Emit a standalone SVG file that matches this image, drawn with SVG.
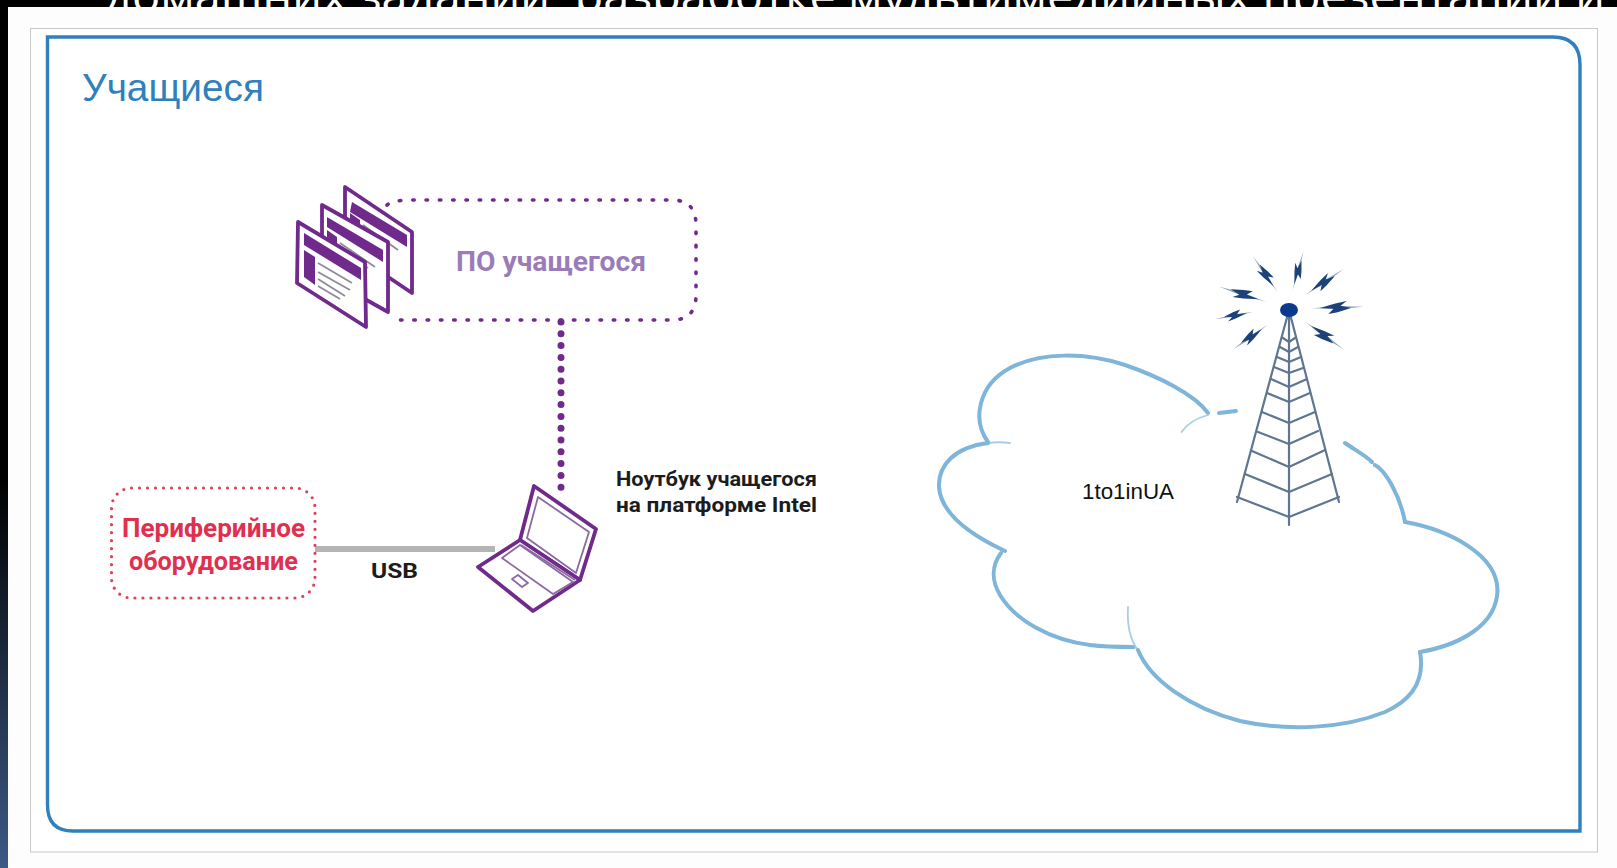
<svg xmlns="http://www.w3.org/2000/svg" width="1617" height="868" viewBox="0 0 1617 868">
<style>
.lbl{font-family:"Roboto","Liberation Sans",sans-serif;font-weight:700}
.win{fill:#fff;stroke:#6f2a8c;stroke-width:3.800;stroke-linejoin:round}
.bar{fill:#6f2a8c}
.ln{stroke:#8f8a9c;stroke-width:1.800;fill:none}
.lap{fill:#fff;stroke:#6f2a8c;stroke-width:3.800;stroke-linejoin:round}
.lapi{fill:none;stroke:#8a6aa0;stroke-width:1.800;stroke-linejoin:round}
.tw{fill:none;stroke:#5f7590;stroke-width:2.200;stroke-linecap:round;stroke-linejoin:round}
.cl{fill:none;stroke:#7fb5d8;stroke-width:4;stroke-linecap:round;stroke-linejoin:round}
.clt{fill:none;stroke:#a9cde3;stroke-width:1.800;stroke-linecap:round}
</style>
<defs>
<linearGradient id="strip" x1="0" y1="0" x2="0" y2="1"><stop offset="0.55" stop-color="#000"/><stop offset="1" stop-color="#3c5a86"/></linearGradient>
<g id="bolt">
<polygon points="0,0 45,-3 100,0 45,3" fill="#8fa3bb"/>
<polygon points="24,-2 50,-9 68,-12 58,-2 84,0 54,8 32,12 44,3" fill="#1c4279"/>
</g>
</defs>
<rect width="1617" height="868" fill="#000"/>
<rect x="0" y="0" width="8" height="868" fill="url(#strip)"/>
<text id="top-text" x="105" y="12" font-family="'Open Sans',sans-serif" font-size="44" fill="#fff" textLength="1500" lengthAdjust="spacingAndGlyphs">домашних заданий, разработке мультимедийных презентаций и</text>
<rect x="8" y="7" width="1609" height="861" fill="#fdfdfd"/>
<g id="frame">
<rect x="30.500" y="28.500" width="1567" height="823.500" fill="#fff" stroke="#c8c8c8" stroke-width="1"/>
<path d="M47.500,37 H1553 Q1580,37 1580,65 V831 H73 Q47.500,831 47.500,805 Z" fill="#fff" stroke="#2f80bb" stroke-width="3.400"/>
<text x="82" y="101" font-family="'Liberation Sans',sans-serif" font-size="38" fill="#2f80bb" textLength="182" lengthAdjust="spacingAndGlyphs">Учащиеся</text>
</g>
<g id="connectors">
<path d="M561,322 V497" fill="none" stroke="#6f2a8c" stroke-width="7" stroke-linecap="round" stroke-dasharray="0 11.800"/>
<path d="M315,549 H495" fill="none" stroke="#b4b4b4" stroke-width="6"/>
<text x="371" y="578" class="lbl" font-size="21" fill="#1c1c1c" textLength="47" lengthAdjust="spacingAndGlyphs">USB</text>
</g>
<g id="software">
<path d="M387,205 Q393,200 412,200 H672 Q696,200 696,225 V295 Q696,320 672,320 H392" fill="none" stroke="#6f2a8c" stroke-width="3.600" stroke-linecap="round" stroke-dasharray="1.500 11.800"/>
<text x="456" y="271" class="lbl" font-size="28" fill="#9a7cb8" textLength="190" lengthAdjust="spacingAndGlyphs">ПО учащегося</text>
<polygon class="win" points="345,187 412,232 412,293 345,248"/>
<polygon class="bar" points="352,202 407,235 407,247 350,212"/>
<polygon class="bar" points="350,213 360,220 360,230 350,225"/>
<path class="ln" d="M363,225 L398,250"/>
<polygon class="win" points="322,205 388,242 388,312 322,275"/>
<polygon class="bar" points="327,217 383,250 383,262 327,227"/>
<polygon class="bar" points="327,230 337,237 337,245 327,240"/>
<path class="ln" d="M340,243 L375,267 M340,250 L368,268"/>
<polygon class="win" points="298,222 365,262 366,327 297,283"/>
<polygon class="bar" points="304,233 361,268 361,280 304,245"/>
<polygon class="bar" points="304,250 315,257 315,285 304,277"/>
<path class="ln" d="M318,263 L352,283 M318,272 L350,290 M318,279 L345,296 M318,286 L340,299"/>
</g>
<g id="peripherals">
<rect x="111.500" y="488" width="203.500" height="110" rx="20" fill="none" stroke="#e0405c" stroke-width="3.200" stroke-linecap="round" stroke-dasharray="0 8"/>
<text x="122" y="537" class="lbl" font-size="26" fill="#e0304f" textLength="183" lengthAdjust="spacingAndGlyphs">Периферийное</text>
<text x="129" y="570" class="lbl" font-size="26" fill="#e0304f" textLength="169" lengthAdjust="spacingAndGlyphs">оборудование</text>
</g>
<g id="laptop">
<polygon class="lap" points="534,486 596,529 580,580 520,540"/>
<polygon class="lapi" points="538,497 589,532 576,573 527,538"/>
<polygon class="lap" points="520,540 478,567 533,611 580,580"/>
<path class="lapi" d="M521,545 L575,580"/>
<polygon class="lapi" points="520,545 573,582 553,594 502,558"/>
<polygon class="lapi" points="518,575 528,583 522,587 512,579"/>
<text x="616" y="486" class="lbl" font-size="20" fill="#1c1c1c" textLength="201" lengthAdjust="spacingAndGlyphs">Ноутбук учащегося</text>
<text x="616" y="512" class="lbl" font-size="20" fill="#1c1c1c" textLength="201" lengthAdjust="spacingAndGlyphs">на платформе Intel</text>
</g>
<g id="cloud">
<path class="cl" d="M988,442 C972,420 978,385 1010,368 C1040,352 1085,352 1125,365 C1160,377 1195,395 1208,413"/>
<path class="clt" d="M1208,415 C1197,418 1187,424 1181.500,432"/>
<path class="cl" d="M1219,413 L1236,411"/>
<path class="clt" d="M1010,443 C1002,442 995,442 988,443"/>
<path class="cl" d="M988,443 C955,447 938,465 939,487 C941,515 975,537 1005,551"/>
<path class="cl" d="M1001,553 C992,565 991,580 1000,595 C1015,620 1050,640 1090,645 C1105,647 1120,647 1134,647"/>
<path class="clt" d="M1128,607 C1127,625 1130,640 1138,650"/>
<path class="cl" d="M1138,650 C1150,680 1190,708 1240,721 C1290,732 1345,728 1385,712 C1412,700 1425,680 1420,652"/>
<path class="cl" d="M1420,652 C1460,645 1497,625 1497.500,590 C1497,555 1450,530 1405,522"/>
<path class="cl" d="M1405,522 C1400,495 1385,470 1375,465 M1372,462 C1365,455 1355,450 1345,443"/>
<text x="1082" y="499" font-family="'Liberation Sans',sans-serif" font-size="22" fill="#111" textLength="92" lengthAdjust="spacingAndGlyphs">1to1inUA</text>
</g>
<g id="tower">
<path class="tw" d="M1289,310 L1237,502 M1289,310 L1339,502 M1289,310 V525"/>
<path class="tw" d="M1237,497 L1289,517 L1339,497 M1245,474 L1289,492 L1332,474 M1252,451 L1289,467 L1325,450 M1258,432 L1289,444 L1318,431 M1262,412 L1289,423 L1315,412 M1267,393 L1289,402 L1310,393 M1271,379 L1289,387 L1307,379 M1274,367 L1289,373 L1303,368 M1277,357 L1289,362 L1301,357 M1280,347 L1289,352 L1298,347 M1283,338 L1289,342 L1295,338"/>
<ellipse cx="1289" cy="310" rx="9" ry="7" fill="#0b3a8c"/>
<use href="#bolt" transform="translate(1253.300,256.700) rotate(55.600) scale(.424)"/>
<use href="#bolt" transform="translate(1303.300,251.700) rotate(105.500) scale(.398)"/>
<use href="#bolt" transform="translate(1343.300,269.300) rotate(146.100) scale(.46)"/>
<use href="#bolt" transform="translate(1363.300,306.700) rotate(178.200) scale(.516)"/>
<use href="#bolt" transform="translate(1343.300,349.300) rotate(215.800) scale(.472)"/>
<use href="#bolt" transform="translate(1233.300,349.300) rotate(-35.500) scale(.418)"/>
<use href="#bolt" transform="translate(1215,319.300) rotate(-11.200) scale(.39)"/>
<use href="#bolt" transform="translate(1219.300,286.700) rotate(17.800) scale(.49)"/>
</g>
</svg>
